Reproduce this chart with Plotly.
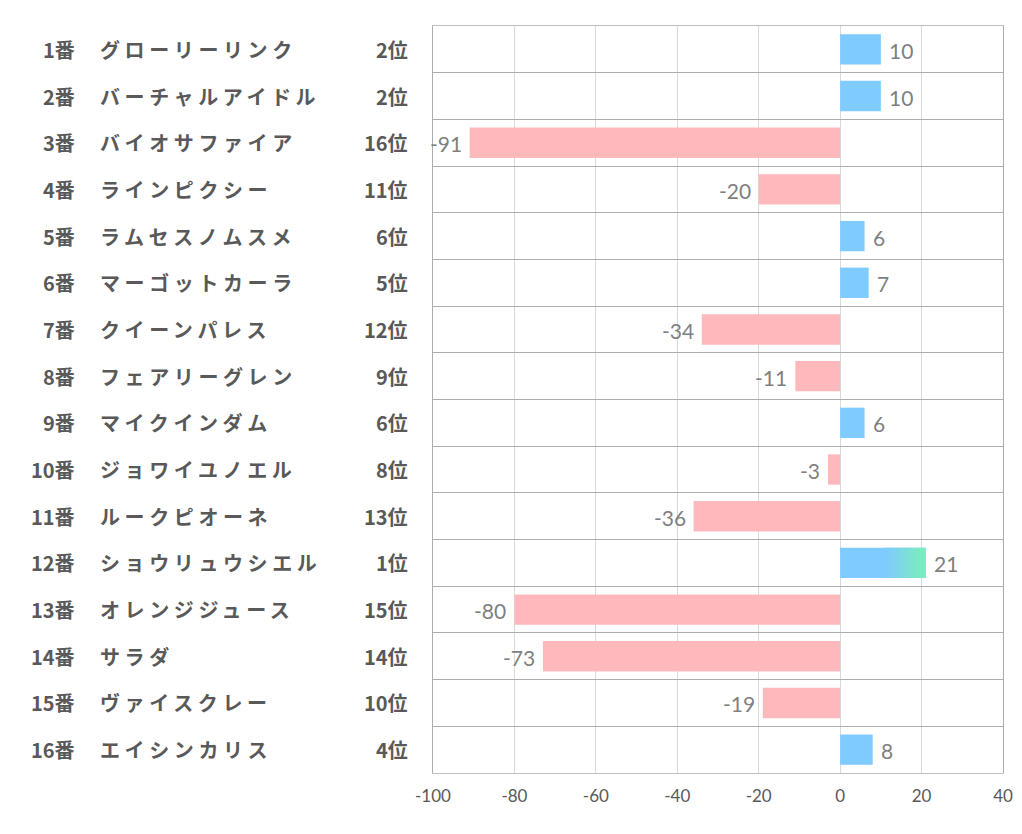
import plotly.graph_objects as go

nums = ["1番","2番","3番","4番","5番","6番","7番","8番","9番","10番","11番","12番","13番","14番","15番","16番"]
names = ["グローリーリンク","バーチャルアイドル","バイオサファイア","ラインピクシー","ラムセスノムスメ",
         "マーゴットカーラ","クイーンパレス","フェアリーグレン","マイクインダム","ジョワイユノエル",
         "ルークピオーネ","ショウリュウシエル","オレンジジュース","サラダ","ヴァイスクレー","エイシンカリス"]
ranks = ["2位","2位","16位","11位","6位","5位","12位","9位","6位","8位","13位","1位","15位","14位","10位","4位"]
values = [10,10,-91,-20,6,7,-34,-11,6,-3,-36,21,-80,-73,-19,8]
xticks = [-100,-80,-60,-40,-20,0,20,40]
xticklabels = ["-100","-80","-60","-40","-20","0","20","40"]

BLUE = "#7FCBFF"
PINK = "#FFB9BC"
GREEN = (124, 240, 184)
BLUE_RGB = (127, 203, 255)
TOP = 11  # index of first-ranked horse (gradient bar)

ys = list(range(len(values)))
colors = [BLUE if v >= 0 else PINK for v in values]

fig = go.Figure()
fig.add_trace(go.Bar(
    x=values, y=ys, orientation="h", width=0.65,
    marker=dict(color=colors, line=dict(width=0)),
    hoverinfo="skip",
))

# gradient overlay on the top bar
v = values[TOP]
start = v * 0.52
n = 14
step = (v - start) / n
for k in range(n):
    t = (k + 0.5) / n
    c = tuple(int(BLUE_RGB[i] + (GREEN[i] - BLUE_RGB[i]) * t) for i in range(3))
    fig.add_trace(go.Bar(
        x=[step * 1.02], y=[TOP], base=[start + k * step], orientation="h", width=0.65,
        marker=dict(color="rgb(%d,%d,%d)" % c, line=dict(width=0)),
        hoverinfo="skip", showlegend=False,
    ))

W, H = 1006, 818
L, R, T, B = 425, 11, 18, 53
pw = W - L - R

def px(x):  # page pixel -> paper coordinate
    return (x - 8 - L) / pw

# data labels
for i, val in enumerate(values):
    fig.add_annotation(x=val, y=i, xref="x", yref="y", text=str(val), showarrow=False,
                       xanchor="left" if val >= 0 else "right",
                       xshift=6 if val >= 0 else -6, yshift=-1,
                       font=dict(family="Lato", size=21, color="#7F7F7F"))

label_font = dict(family="Noto Sans CJK JP", size=20, color="#595959")
for i in ys:
    fig.add_annotation(x=px(77), y=i, xref="paper", yref="y", text="<b>%s</b>" % nums[i],
                       showarrow=False, xanchor="right", font=label_font)
    fig.add_annotation(x=px(98), y=i, xref="paper", yref="y",
                       text='<b><span style="letter-spacing:4.6px">%s</span></b>' % names[i],
                       showarrow=False, xanchor="left", font=label_font)
    fig.add_annotation(x=px(410), y=i, xref="paper", yref="y", text="<b>%s</b>" % ranks[i],
                       showarrow=False, xanchor="right", font=label_font)

fig.update_layout(
    width=W, height=H,
    margin=dict(l=L, r=R, t=T, b=B),
    paper_bgcolor="white", plot_bgcolor="white",
    barmode="overlay", showlegend=False,
    xaxis=dict(range=[-100, 40], tickvals=xticks, ticktext=xticklabels, showgrid=True,
               gridcolor="#D9D9D9", gridwidth=1, zeroline=False, showline=True,
               linecolor="#BFBFBF", mirror=True,
               ticks="", ticklabelstandoff=8, automargin=False,
               tickfont=dict(family="Lato", size=17, color="#595959")),
    yaxis=dict(range=[15.5, -0.5], tick0=0.5, dtick=1, showticklabels=False, showgrid=True,
               gridcolor="#ADADAD", gridwidth=1, zeroline=False, showline=True,
               linecolor="#ADADAD", mirror=True, ticks="", automargin=False),
)
fig.write_html("out.html")
